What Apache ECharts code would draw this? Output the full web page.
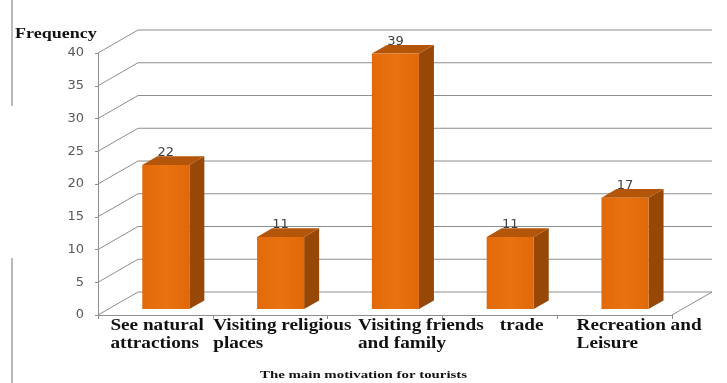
<!DOCTYPE html>
<html>
<head>
<meta charset="utf-8">
<script src="https://cdn.jsdelivr.net/npm/echarts@6/dist/echarts.min.js"></script>
<style>
  html, body { margin: 0; padding: 0; background: #ffffff; }
  #chart { width: 727px; height: 383px; }
</style>
</head>
<body>
<div id="chart"></div>
<script>
// Categories and frequencies
const categories = [
  'See natural\nattractions',
  'Visiting religious\nplaces',
  'Visiting friends\nand family',
  'trade',
  'Recreation and\nLeisure'
];
const frequencies = [22, 11, 39, 11, 17];
const yTicks = [0, 5, 10, 15, 20, 25, 30, 35, 40];

// Oblique projection of the depth axis (pixels for the full floor depth)
const DEPTH_X = 40;
const DEPTH_Y = -23;
const BAR_FRONT = 0.26;   // bar front plane, fraction of depth
const BAR_DEPTH = 0.375;  // bar thickness, fraction of depth
const BAR_WIDTH = 0.41;   // fraction of the category band
const TEXT_STRETCH = 1.2;
// horizontal shift of each wrapped category label from its band centre
const labelShift = [-45, -57, -27, 0, -38];

const SIDE_COLOR = '#974806';
const TOP_COLOR = '#B3560A';
const GRID_COLOR = '#8e8e8e';

const chart = echarts.init(document.getElementById('chart'), null, { renderer: 'canvas' });

function wallItem(params, api) {
  const cs = params.coordSys;
  const v = api.value(0);
  const y = api.coord([0, v])[1];
  const L = cs.x, R = cs.x + cs.width;
  const children = [{
    type: 'polyline',
    shape: { points: [[L, y], [L + DEPTH_X, y + DEPTH_Y], [R + DEPTH_X, y + DEPTH_Y]] },
    style: { stroke: GRID_COLOR, lineWidth: 1, fill: null }
  }];
  if (v === 0) {
    children.push({
      type: 'line',
      shape: { x1: R, y1: y, x2: R + DEPTH_X, y2: y + DEPTH_Y },
      style: { stroke: GRID_COLOR, lineWidth: 1 }
    });
  }
  return { type: 'group', children: children };
}

function barItem(params, api) {
  const i = api.value(0);
  const val = api.value(1);
  const base = api.coord([i, 0]);
  const top = api.coord([i, val]);
  const band = api.size([1, 0])[0];
  const w = band * BAR_WIDTH;
  const cx = base[0] + BAR_FRONT * DEPTH_X;
  const yb = base[1] + BAR_FRONT * DEPTH_Y;
  const yt = top[1] + BAR_FRONT * DEPTH_Y;
  const xl = cx - w / 2, xr = cx + w / 2;
  const dx = BAR_DEPTH * DEPTH_X, dy = BAR_DEPTH * DEPTH_Y;
  return {
    type: 'group',
    children: [
      {
        type: 'polygon',
        shape: { points: [[xr, yt], [xr + dx, yt + dy], [xr + dx, yb + dy], [xr, yb]] },
        style: { fill: SIDE_COLOR }
      },
      {
        type: 'polygon',
        shape: { points: [[xl, yt], [xl + dx, yt + dy], [xr + dx, yt + dy], [xr, yt]] },
        style: { fill: TOP_COLOR }
      },
      {
        type: 'rect',
        shape: { x: xl, y: yt, width: w, height: yb - yt },
        style: {
          fill: new echarts.graphic.LinearGradient(0, 0, 1, 0, [
            { offset: 0, color: '#E2690A' },
            { offset: 0.5, color: '#E8730F' },
            { offset: 1, color: '#E0680A' }
          ])
        }
      },
      {
        type: 'text',
        x: cx, y: yt - 12,
        style: {
          text: String(val),
          font: '13px "DejaVu Sans", sans-serif',
          fill: '#404040',
          align: 'center',
          verticalAlign: 'middle'
        }
      }
    ]
  };
}

function labelItem(params, api) {
  const i = api.value(0);
  const p = api.coord([i, 0]);
  return {
    type: 'text',
    x: p[0] + labelShift[i],
    y: p[1] + 2,
    scaleX: TEXT_STRETCH,
    style: {
      text: categories[i],
      font: 'bold 16px "Liberation Serif", "Times New Roman", serif',
      fill: '#111111',
      align: 'left',
      verticalAlign: 'top',
      lineHeight: 18
    }
  };
}

const option = {
  backgroundColor: '#ffffff',
  animation: false,
  grid: { left: 98, right: 55, top: 53, bottom: 68 },
  xAxis: {
    type: 'category',
    data: categories,
    boundaryGap: true,
    axisLine: { show: true, lineStyle: { color: GRID_COLOR, width: 1 } },
    axisTick: { show: true, length: 4, lineStyle: { color: GRID_COLOR } },
    axisLabel: { show: false },
    splitLine: { show: false }
  },
  yAxis: {
    type: 'value',
    min: 0,
    max: 40,
    interval: 5,
    axisLine: { show: true, lineStyle: { color: GRID_COLOR, width: 1 } },
    axisTick: { show: true, length: 3, lineStyle: { color: GRID_COLOR } },
    axisLabel: {
      margin: 14,
      color: '#595959',
      fontFamily: '"DejaVu Sans", sans-serif',
      fontSize: 13
    },
    splitLine: { show: false }
  },
  graphic: [
    {
      type: 'text', left: 15, top: 27, scaleX: TEXT_STRETCH,
      style: { text: 'Frequency', font: 'bold 15px "Liberation Serif", "Times New Roman", serif', fill: '#111111' }
    },
    {
      type: 'text', left: 260, top: 370, scaleX: 1.35,
      style: { text: 'The main motivation for tourists', font: 'bold 11px "Liberation Serif", "Times New Roman", serif', fill: '#111111' }
    },
    { type: 'line', shape: { x1: 12, y1: 0, x2: 12, y2: 106 }, style: { stroke: '#777777', lineWidth: 1 } },
    { type: 'line', shape: { x1: 12, y1: 258, x2: 12, y2: 383 }, style: { stroke: '#777777', lineWidth: 1 } }
  ],
  series: [
    {
      type: 'custom',
      name: 'wall',
      renderItem: wallItem,
      data: yTicks.map(v => [v]),
      encode: { y: 0 },
      silent: true,
      z: 1
    },
    {
      type: 'custom',
      name: 'Frequency',
      renderItem: barItem,
      data: frequencies.map((v, i) => [i, v]),
      encode: { x: 0, y: 1 },
      z: 3
    },
    {
      type: 'custom',
      name: 'labels',
      renderItem: labelItem,
      data: categories.map((c, i) => [i]),
      encode: { x: 0 },
      silent: true,
      z: 4
    }
  ]
};

chart.setOption(option);
</script>
</body>
</html>
